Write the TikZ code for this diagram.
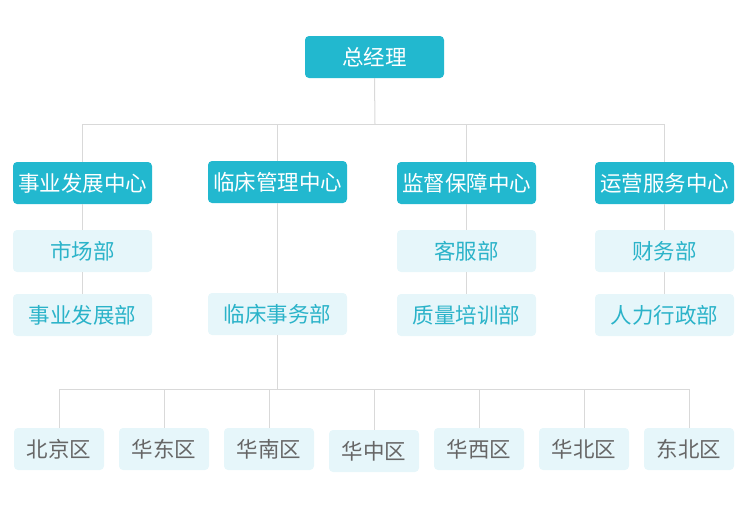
\documentclass[tikz,border=0pt]{standalone}
\usepackage{fontspec}
\setmainfont{Noto Sans CJK SC}
\usetikzlibrary{positioning}
\definecolor{headcyan}{HTML}{22B8CF}
\definecolor{palecyan}{HTML}{E6F6FA}
\definecolor{subtext}{HTML}{2BB3C9}
\definecolor{areatext}{HTML}{666666}
\definecolor{linkgray}{HTML}{D9D9D9}
\begin{document}
\begin{tikzpicture}[x=1pt,y=-1pt,
% Box styles
		head/.style={rectangle
							    , rounded corners=4pt
							    , fill=headcyan
							    , text=white
							    , minimum width=139pt
							    , minimum height=42pt
							    , inner sep=0pt
							    , font=\fontsize{21.5}{24}\selectfont},
		dept/.style={rectangle
							    , rounded corners=4pt
							    , fill=palecyan
							    , text=subtext
							    , minimum width=139pt
							    , minimum height=42pt
							    , inner sep=0pt
							    , font=\fontsize{21.5}{24}\selectfont},
		area/.style={rectangle
							    , rounded corners=4pt
							    , fill=palecyan
							    , text=areatext
							    , minimum width=90pt
							    , minimum height=42pt
							    , inner sep=0pt
							    , font=\fontsize{21.5}{24}\selectfont},
% Connector style
		link/.style={draw=linkgray, line width=1pt}
	]
	\useasboundingbox (0,0) rectangle (750,512);
%% Lines behind the boxes
	\coordinate (bus1) at (375,124);
	\coordinate (bus2) at (277.5,389);
%% Top
	\node [head] (gm) at (374.5,57) {总经理};
%% Centres
	\node [head] (c1) at (82.5,183)  {事业发展中心};
	\node [head] (c2) at (277.5,182) {临床管理中心};
	\node [head] (c3) at (466.5,183) {监督保障中心};
	\node [head] (c4) at (664.5,183) {运营服务中心};
%% Departments
	\node [dept] (c1d1) at (82.5,251)  {市场部};
	\node [dept] (c1d2) at (82.5,315)  {事业发展部};
	\node [dept] (c2d1) at (277.5,314) {临床事务部};
	\node [dept] (c3d1) at (466.5,251) {客服部};
	\node [dept] (c3d2) at (466.5,315) {质量培训部};
	\node [dept] (c4d1) at (664.5,251) {财务部};
	\node [dept] (c4d2) at (664.5,315) {人力行政部};
%% Regions
	\node [area] (r1) at (59,449)  {北京区};
	\node [area] (r2) at (164,449) {华东区};
	\node [area] (r3) at (269,449) {华南区};
	\node [area] (r4) at (374,451) {华中区};
	\node [area] (r5) at (479,449) {华西区};
	\node [area] (r6) at (584,449) {华北区};
	\node [area] (r7) at (689,449) {东北区};
%% Connectors
	\begin{scope}[on background layer/.try]
	\draw [link] (gm.south) -- (bus1);
	\draw [link] (c1.north) |- (bus1);
	\draw [link] (c4.north) |- (bus1);
	\draw [link] (c2.north) -- (c2.north |- bus1);
	\draw [link] (c3.north) -- (c3.north |- bus1);
	\draw [link] (c1.south) -- (c1d1.north);
	\draw [link] (c1d1.south) -- (c1d2.north);
	\draw [link] (c2.south) -- (c2d1.north);
	\draw [link] (c3.south) -- (c3d1.north);
	\draw [link] (c3d1.south) -- (c3d2.north);
	\draw [link] (c4.south) -- (c4d1.north);
	\draw [link] (c4d1.south) -- (c4d2.north);
	\draw [link] (c2d1.south) -- (bus2);
	\draw [link] (r1.north) |- (bus2);
	\draw [link] (r7.north) |- (bus2);
	\foreach \r in {r2,r3,r4,r5,r6}
		\draw [link] (\r.north) -- (\r.north |- bus2);
	\end{scope}
\end{tikzpicture}
\end{document}
